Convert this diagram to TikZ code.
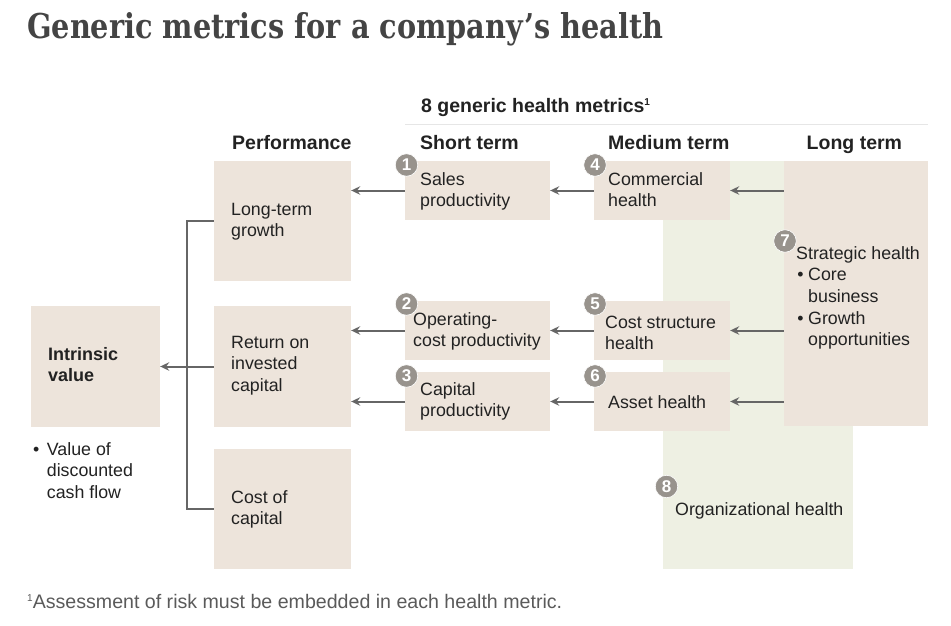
\documentclass[tikz,border=0pt]{standalone}
\usepackage{graphicx}
\usepackage{fontspec}
\setmainfont{Liberation Sans}
\newfontfamily\titlefont{DejaVu Serif}
\usetikzlibrary{arrows.meta,calc}
\definecolor{beige}{HTML}{EDE4DB}
\definecolor{sage}{HTML}{EEF0E3}
\definecolor{arrgray}{HTML}{666666}
\definecolor{numgray}{HTML}{98938D}
\definecolor{ink}{HTML}{222222}
\definecolor{titlegray}{HTML}{444444}
\definecolor{notegray}{HTML}{5A5A5A}
\definecolor{rulegray}{HTML}{E6E6E6}
\tikzset{
  box/.style={rectangle, fill=beige, inner sep=0, draw=none},
  greenbox/.style={rectangle, fill=sage, inner sep=0, draw=none},
  txt/.style={anchor=north west, inner sep=0, align=left, text=ink,
    font=\fontsize{17.8}{21.7}\selectfont},
  btxt/.style={anchor=north west, inner sep=0, align=left, text=ink,
    font=\bfseries\fontsize{18}{21.7}\selectfont},
  head/.style={anchor=base west, inner sep=0, text=ink,
    font=\bfseries\fontsize{19.5}{22}\selectfont},
  num/.style={circle, fill=numgray, draw=white, line width=0.6pt,
    minimum size=22.5pt, inner sep=0, text=white,
    font=\bfseries\fontsize{17}{17}\selectfont},
  conn/.style={draw=arrgray, line width=2pt},
  arr/.style={conn, -{Stealth[length=9pt,width=8.5pt,inset=3pt]}},
}
\newcommand{\supone}{\raisebox{7pt}{\fontsize{10}{10}\selectfont 1}}
\begin{document}
\begin{tikzpicture}[x=1pt,y=-1pt]
\useasboundingbox (0,0) rectangle (951,626);

% title
\node[anchor=base west, inner sep=0, text=titlegray] (title) at (27,39)
  {\resizebox{636pt}{26pt}{\titlefont\bfseries Generic metrics for a company’s health}};

% header
\node[head] (hmetrics) at (421,113) {8 generic health metrics\supone};
\coordinate (rl) at (405,124.5);
\coordinate (rr) at (928,124.5);
\draw[rulegray, line width=1pt] (rl) -- (rr);
\node[head] (hperf) at (232,149) {Performance};
\node[head] (hshort) at (420,149) {Short term};
\node[head] (hmed) at (608,149) {Medium term};
\node[head] (hlong) at (806.5,149) {Long term};

% green organizational region
\node[greenbox, minimum width=190pt, minimum height=408pt] (org) at (758,365) {};

% boxes
\node[box, minimum width=129pt, minimum height=121pt] (intr) at (95.5,366.5) {};
\node[box, minimum width=137pt, minimum height=120pt] (ltg) at (282.5,221) {};
\node[box, minimum width=137pt, minimum height=121pt] (roic) at (282.5,366.5) {};
\node[box, minimum width=137pt, minimum height=120pt] (coc) at (282.5,509) {};
\node[box, minimum width=145pt, minimum height=59pt] (sales) at (477.5,190.5) {};
\node[box, minimum width=136pt, minimum height=59pt] (comm) at (662,190.5) {};
\node[box, minimum width=145pt, minimum height=59pt] (opc) at (477.5,330.5) {};
\node[box, minimum width=136pt, minimum height=59pt] (csh) at (662,330.5) {};
\node[box, minimum width=145pt, minimum height=59pt] (capp) at (477.5,401.5) {};
\node[box, minimum width=136pt, minimum height=59pt] (asset) at (662,401.5) {};
\node[box, minimum width=144pt, minimum height=265pt] (strat) at (856,293.5) {};

% texts (y = first baseline - 15.2)
\node[btxt] (tintr) at (48,344.8) {\strut Intrinsic\\value};
\node[txt] (tval) at (46.7,439.8) {\strut\llap{•\hspace{7.5pt}}Value of\\discounted\\cash flow};
\node[txt] (tltg) at (231,199.8) {\strut Long-term\\growth};
\node[txt] (troic) at (231,332.8) {\strut Return on\\invested\\capital};
\node[txt] (tcoc) at (231,487.8) {\strut Cost of\\capital};
\node[txt] (tsales) at (420,169.8) {\strut Sales\\productivity};
\node[txt] (tcomm) at (608,169.8) {\strut Commercial\\health};
\node[txt] (topc) at (413,309.8) {\strut Operating-\\cost productivity};
\node[txt] (tcsh) at (605,312.8) {\strut Cost structure\\health};
\node[txt] (tcapp) at (420,379.8) {\strut Capital\\productivity};
\node[txt] (tasset) at (608,392.8) {\strut Asset health};
\node[txt] (tstrat) at (796,243.8) {\strut Strategic health};
\node[txt] (tstratb) at (808,265.3) {\strut\llap{•\hspace{4.5pt}}Core\\business\\\llap{•\hspace{4.5pt}}Growth\\opportunities};
\node[txt] (torg) at (675,499.8) {\strut Organizational health};

% connectors
\draw[arr] (sales.west) -- (sales.west -| ltg.east);
\draw[arr] (comm.west) -- (comm.west -| sales.east);
\draw[arr] (comm.east -| strat.west) -- (comm.east);
\draw[arr] (opc.west) -- (opc.west -| roic.east);
\draw[arr] (csh.west) -- (csh.west -| opc.east);
\draw[arr] (csh.east -| strat.west) -- (csh.east);
\draw[arr] (capp.west) -- (capp.west -| roic.east);
\draw[arr] (asset.west) -- (asset.west -| capp.east);
\draw[arr] (asset.east -| strat.west) -- (asset.east);
\coordinate (bk) at (187,366.5);
\draw[conn] (ltg.west) -| (bk) |- (coc.west);
\draw[arr] (roic.west) -- (intr.east);

% number badges
\node[num] (n1) at (406.5,165) {1};
\node[num] (n2) at (406.5,304) {2};
\node[num] (n3) at (406.5,376) {3};
\node[num] (n4) at (595,165) {4};
\node[num] (n5) at (595,304) {5};
\node[num] (n6) at (595,376) {6};
\node[num] (n7) at (785,241) {7};
\node[num] (n8) at (666.5,486.5) {8};

% footnote
\node[anchor=base west, inner sep=0, text=notegray, font=\fontsize{19.6}{22}\selectfont] (fn) at (27,608)
  {\raisebox{7pt}{\fontsize{10}{10}\selectfont 1}Assessment of risk must be embedded in each health metric.};
\end{tikzpicture}
\end{document}
